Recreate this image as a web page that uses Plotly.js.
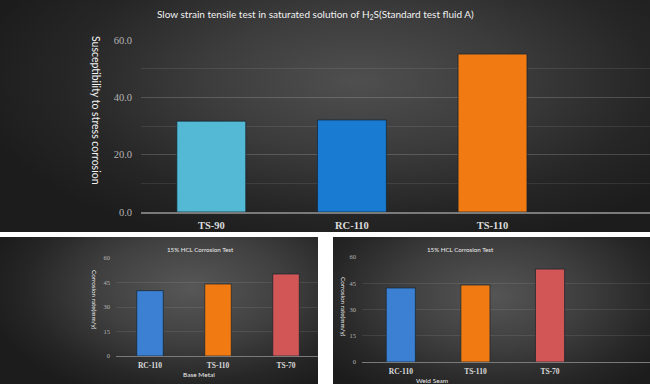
<!DOCTYPE html>
<html>
<head>
<meta charset="utf-8">
<script src="https://cdn.plot.ly/plotly-3.0.1.min.js"></script>
<style>
  html, body { margin: 0; padding: 0; background: #ffffff; }
  #wrap { position: relative; width: 650px; height: 384px; overflow: hidden; background: #ffffff; }
  .panel { position: absolute; }
  #p1 { left: 0; top: 0; width: 650px; height: 232px;
        background: radial-gradient(ellipse 60% 75% at 55% 35%, #4f4f4f 0%, #3c3c3c 40%, #262626 75%, #1c1c1c 100%); }
  #p2 { left: 0; top: 237px; width: 318px; height: 147px;
        background: radial-gradient(ellipse 65% 80% at 60% 35%, #575757 0%, #404040 45%, #262626 80%, #1c1c1c 100%); }
  #p3 { left: 333px; top: 237px; width: 317px; height: 147px;
        background: radial-gradient(ellipse 65% 80% at 50% 40%, #555555 0%, #3e3e3e 45%, #262626 80%, #1c1c1c 100%); }
  #chart { position: absolute; left: 0; top: 0; width: 650px; height: 384px; }
</style>
</head>
<body>
<div id="wrap">
  <div class="panel" id="p1"></div>
  <div class="panel" id="p2"></div>
  <div class="panel" id="p3"></div>
  <div id="chart"></div>
</div>
<script>
// ---- data ----
const topCategories = ["TS-90", "RC-110", "TS-110"];
const topValues = [31.7, 32.1, 55.1];
const topColors = ["#53b9d4", "#1a7bd2", "#f17a12"];

const baseCategories = ["RC-110", "TS-110", "TS-70"];
const baseValues = [40.0, 44.1, 50.2];

const weldCategories = ["RC-110", "TS-110", "TS-70"];
const weldValues = [42.3, 44.0, 53.1];

const bottomColors = ["#3b80d2", "#f17a12", "#d25656"];

const topTitle = "Slow strain tensile test in saturated solution of H<sub>2</sub>S(Standard test fluid A)";
const topYTitle = "Susceptibility to stress corrosion";
const hclTitle = "15% HCL Corrosion Test";
const hclYTitle = "Corrosion rate(mm/y)";
const baseXTitle = "Base Metal";
const weldXTitle = "Weld Seam";

// ---- styles ----
const sans = "Lato, Liberation Sans, Arial, sans-serif";
const serif = "Liberation Serif, Times New Roman, serif";
const gridCol = "rgba(255,255,255,0.09)";
const axisLineCol = "#7a7a7a";

const traces = [
  {
    type: "bar", x: topCategories, y: topValues, xaxis: "x", yaxis: "y",
    width: 0.49,
    marker: { color: topColors, line: { color: "rgba(20,35,45,0.7)", width: 1 } },
    hoverinfo: "x+y", showlegend: false
  },
  {
    type: "bar", x: baseCategories, y: baseValues, xaxis: "x2", yaxis: "y2",
    width: 0.39,
    marker: { color: bottomColors, line: { color: "rgba(20,35,45,0.7)", width: 1 } },
    hoverinfo: "x+y", showlegend: false
  },
  {
    type: "bar", x: weldCategories, y: weldValues, xaxis: "x3", yaxis: "y3",
    width: 0.39,
    marker: { color: bottomColors, line: { color: "rgba(20,35,45,0.7)", width: 1 } },
    hoverinfo: "x+y", showlegend: false
  }
];

function px(xp) { return xp / 650; }
function py(yp) { return (384 - yp) / 384; }

function ann(text, x, y, size, angle, color) {
  return { text: text, xref: "paper", yref: "paper", x: px(x), y: py(y),
    xanchor: "center", yanchor: "middle", textangle: angle || 0,
    showarrow: false, font: { family: sans, size: size, color: color || "#eeeeee" } };
}

const layout = {
  width: 650, height: 384,
  margin: { l: 0, r: 0, t: 0, b: 0 },
  paper_bgcolor: "rgba(0,0,0,0)",
  plot_bgcolor: "rgba(0,0,0,0)",
  showlegend: false,
  xaxis: {
    domain: [px(141), 1], range: [-0.5, 3.12], type: "category",
    showline: true, linecolor: axisLineCol, linewidth: 1.5,
    ticks: "", showgrid: false, zeroline: false,
    tickfont: { family: serif, size: 10.5, color: "#dcdcdc", weight: "bold" },
    ticklabelstandoff: 3,
    anchor: "y"
  },
  yaxis: {
    domain: [py(212), py(40)], range: [0, 60], tickvals: [0, 20, 40, 60],
    tickformat: ".1f", showline: false, ticks: "", zeroline: false,
    showgrid: true, gridcolor: gridCol,
    minor: { dtick: 10, showgrid: true, gridcolor: gridCol },
    tickfont: { family: serif, size: 10.5, color: "#b4b4b4" },
    ticklabelstandoff: 8,
    anchor: "x"
  },
  xaxis2: {
    domain: [px(116), px(318)], range: [-0.5, 2.47], type: "category",
    showline: true, linecolor: axisLineCol, linewidth: 1,
    ticks: "", showgrid: false, zeroline: false,
    tickfont: { family: serif, size: 7.5, color: "#dcdcdc", weight: "bold" },
    ticklabelstandoff: 2,
    anchor: "y2"
  },
  yaxis2: {
    domain: [py(356), py(258)], range: [0, 60], tickvals: [0, 15, 30, 45, 60],
    showline: false, ticks: "", zeroline: false,
    showgrid: true, gridcolor: gridCol,
    tickfont: { family: serif, size: 6.5, color: "#b4b4b4" },
    ticklabelstandoff: 5,
    anchor: "x2"
  },
  xaxis3: {
    domain: [px(362), 1], range: [-0.52, 3.34], type: "category",
    showline: true, linecolor: axisLineCol, linewidth: 1,
    ticks: "", showgrid: false, zeroline: false,
    tickfont: { family: serif, size: 7.5, color: "#dcdcdc", weight: "bold" },
    ticklabelstandoff: 2,
    anchor: "y3"
  },
  yaxis3: {
    domain: [py(362), py(257)], range: [0, 60], tickvals: [0, 15, 30, 45, 60],
    showline: false, ticks: "", zeroline: false,
    showgrid: true, gridcolor: gridCol,
    tickfont: { family: serif, size: 6.5, color: "#b4b4b4" },
    ticklabelstandoff: 5,
    anchor: "x3"
  },
  annotations: [
    ann(topTitle, 315, 14, 10, 0, "#f2f2f2"),
    ann(topYTitle, 96, 110, 10.5, 90, "#f2f2f2"),
    ann(hclTitle, 200, 249, 6.2, 0),
    ann(hclYTitle, 95, 300, 6.3, 90),
    ann(baseXTitle, 199, 374, 6.5, 0),
    ann(hclTitle, 460, 249, 6.2, 0),
    ann(hclYTitle, 344, 307, 6.3, 90),
    ann(weldXTitle, 432, 380, 6.5, 0)
  ]
};

Plotly.newPlot("chart", traces, layout, { displayModeBar: false, staticPlot: true });
</script>
</body>
</html>
